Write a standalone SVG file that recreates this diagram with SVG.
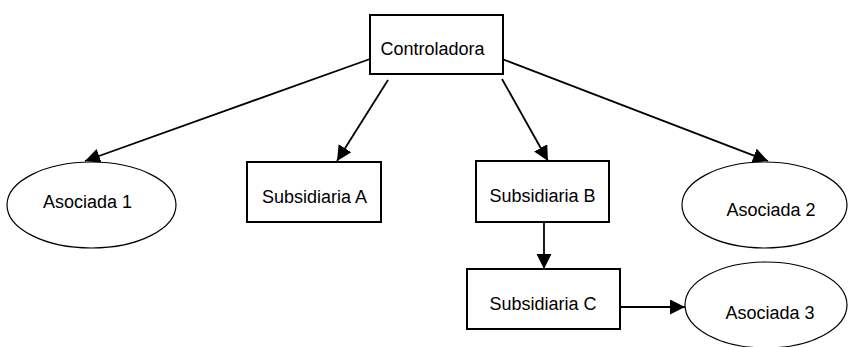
<svg xmlns="http://www.w3.org/2000/svg" width="848" height="347" viewBox="0 0 848 347">
  <style>
    .box { fill: #ffffff; stroke: #000000; stroke-width: 2; }
    .ell { fill: #ffffff; stroke: #000000; stroke-width: 1.2; }
    .lbl { font-family: "Liberation Sans", Arial, sans-serif; font-size: 18px; fill: #000000; text-anchor: middle; }
    .edge { fill: none; stroke: #000000; stroke-width: 1.8; marker-end: url(#arrow); }
  </style>
  <defs>
    <marker id="arrow" markerUnits="userSpaceOnUse" markerWidth="16" markerHeight="16" refX="15" refY="7.5" orient="auto">
      <path d="M0,0 L15,7.5 L0,15 z" fill="#000000"/>
    </marker>
  </defs>
  <rect width="848" height="347" fill="#ffffff"/>
  <g id="connectors">
    <line class="edge" x1="370" y1="59" x2="85" y2="161"/>
    <line class="edge" x1="388" y1="80" x2="337" y2="161"/>
    <line class="edge" x1="502" y1="79" x2="548" y2="161"/>
    <line class="edge" x1="502" y1="59" x2="768" y2="161"/>
    <line class="edge" x1="544" y1="222" x2="544" y2="269"/>
    <line class="edge" x1="620" y1="307" x2="685" y2="307"/>
  </g>
  <g id="controladora">
    <rect class="box" x="370" y="15" width="133" height="59"/>
    <text class="lbl" x="432.5" y="55">Controladora</text>
  </g>
  <g id="asociada1">
    <ellipse class="ell" cx="91.5" cy="205" rx="84.5" ry="43"/>
    <text class="lbl" x="87.5" y="208">Asociada 1</text>
  </g>
  <g id="subsidiariaA">
    <rect class="box" x="247" y="162" width="134" height="60"/>
    <text class="lbl" x="314.5" y="203">Subsidiaria A</text>
  </g>
  <g id="subsidiariaB">
    <rect class="box" x="476" y="161" width="133" height="61"/>
    <text class="lbl" x="542.5" y="202">Subsidiaria B</text>
  </g>
  <g id="asociada2">
    <ellipse class="ell" cx="764.5" cy="205" rx="82.5" ry="43"/>
    <text class="lbl" x="771" y="216">Asociada 2</text>
  </g>
  <g id="subsidiariaC">
    <rect class="box" x="467" y="269" width="153" height="60"/>
    <text class="lbl" x="543" y="310">Subsidiaria C</text>
  </g>
  <g id="asociada3">
    <ellipse class="ell" cx="766" cy="305" rx="81" ry="43"/>
    <text class="lbl" x="770" y="319">Asociada 3</text>
  </g>
</svg>
